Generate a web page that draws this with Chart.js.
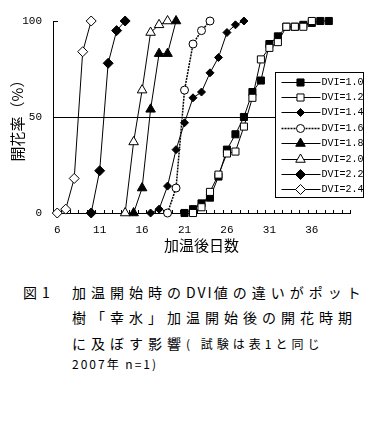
<!DOCTYPE html>
<html>
<head>
<meta charset="utf-8">
<script src="https://cdn.jsdelivr.net/npm/chart.js@4.4.0/dist/chart.umd.min.js"></script>
<style>
body { margin: 0; background: #fff; width: 383px; height: 421px; position: relative; overflow: hidden; font-family: "Noto Sans CJK JP", sans-serif; color: #000; }
#chart { position: absolute; left: 0; top: 0; }
.cap { position: absolute; white-space: nowrap; line-height: 1; }
.big { font-size: 14px; letter-spacing: 5px; }
.small { font-size: 12px; letter-spacing: 4px; }
.lat { letter-spacing: 2px; }
</style>
</head>
<body>
<canvas id="chart" width="383" height="255"></canvas>
<div class="cap big" style="left:23px;top:285px">図1</div>
<div class="cap big" style="left:72px;top:285px">加温開始時の<span class="lat">DVI</span>値の違いがポット</div>
<div class="cap big" style="left:72px;top:310px">樹「幸水」加温開始後の開花時期</div>
<div class="cap" style="left:72px;top:334px"><span class="big">に及ぼす影響</span><span class="small">( 試験は表1と同じ</span></div>
<div class="cap small" style="left:72px;top:358px;letter-spacing:2px">2007年 n=1)</div>
<script>
// x: days after start of heating, y: flowering rate (%)
const xTickLabels = [6, 11, 16, 21, 26, 31, 36];
const yTickLabels = [0, 50, 100];
const seriesLabels = ['DVI=1.0', 'DVI=1.2', 'DVI=1.4', 'DVI=1.6', 'DVI=1.8', 'DVI=2.0', 'DVI=2.2', 'DVI=2.4'];

const days10 = [21, 22, 23, 24, 25, 26, 27, 28, 29, 30, 31, 32, 33, 34, 35, 36, 37, 38];
const rate10 = [0, 2, 5, 8, 19, 33, 41, 50, 63, 69, 88, 92, 97, 97, 98, 99, 100, 100];
const days12 = [22, 23, 24, 25, 26, 27, 28, 29, 30, 31, 32, 33, 34, 35, 36];
const rate12 = [0, 3, 11, 20, 31, 32, 45, 60, 80, 86, 89, 97, 97, 97, 100];
const days14 = [17, 18, 19, 20, 21, 22, 23, 24, 25, 26, 27, 28];
const rate14 = [0, 2, 14, 33, 47, 60, 63, 73, 81, 94, 98, 100];
const days16 = [19, 20, 21, 22, 23, 24];
const rate16 = [0, 13, 64, 88, 95, 100];
const days18 = [15, 16, 17, 18, 19, 20];
const rate18 = [0, 13, 54, 83, 83, 100];
const days20 = [14, 15, 16, 17, 18, 19];
const rate20 = [0, 37, 64, 94, 98, 100];
const days22 = [10, 11, 12, 13, 14];
const rate22 = [0, 22, 78, 95, 100];
const days24 = [6, 7, 8, 9, 10];
const rate24 = [0, 2, 18, 84, 100];

const allDays = [days10, days12, days14, days16, days18, days20, days22, days24];
const allRates = [rate10, rate12, rate14, rate16, rate18, rate20, rate22, rate24];

const markers = [
  { style: 'rect', r: 5, fill: '#000' },
  { style: 'rect', r: 5, fill: '#fff' },
  { style: 'rectRot', r: 4, fill: '#000' },
  { style: 'circle', r: 4, fill: '#fff', dash: [2, 1], width: 1.5 },
  { style: 'triangle', r: 5.5, fill: '#000' },
  { style: 'triangle', r: 5.5, fill: '#fff' },
  { style: 'rectRot', r: 5, fill: '#000' },
  { style: 'rectRot', r: 5, fill: '#fff' },
];

const datasets = seriesLabels.map((label, i) => ({
  label: label,
  data: allDays[i].map((d, j) => ({ x: d, y: allRates[i][j] })),
  borderColor: '#000',
  borderWidth: markers[i].width || 1,
  borderDash: markers[i].dash || [],
  pointStyle: markers[i].style,
  pointRadius: markers[i].r,
  pointBackgroundColor: markers[i].fill,
  pointBorderColor: '#000',
  pointBorderWidth: 1,
  tension: 0,
  clip: false,
  order: 8 - i,
}));

const innerTicks = {
  id: 'innerTicks',
  beforeDatasetsDraw(chart) {
    const { ctx, scales: { x, y }, chartArea: a } = chart;
    ctx.save();
    ctx.strokeStyle = '#000';
    ctx.lineWidth = 1;
    ctx.beginPath();
    for (let d = x.min; d <= x.max + 0.001; d += 1) {
      const px = Math.round(x.getPixelForValue(d)) + 0.5;
      ctx.moveTo(px, a.bottom);
      ctx.lineTo(px, a.bottom - 3);
    }
    yTickLabels.forEach(v => {
      const py = Math.round(y.getPixelForValue(v)) + 0.5;
      ctx.moveTo(a.left, py);
      ctx.lineTo(a.left + 5, py);
    });
    ctx.stroke();
    ctx.restore();
  }
};

const legendBox = {
  id: 'legendBox',
  afterDraw(chart) {
    const ctx = chart.ctx;
    const bx = 275.5, by = 72.5, bw = 88, bh = 125;
    ctx.save();
    ctx.fillStyle = '#fff';
    ctx.fillRect(bx, by, bw, bh);
    ctx.strokeStyle = '#000';
    ctx.lineWidth = 1;
    ctx.strokeRect(bx, by, bw, bh);
    chart.data.datasets.forEach((ds, i) => {
      const ly = Math.round(by + 9 + i * 15.4) + 0.5;
      ctx.strokeStyle = '#000';
      ctx.lineWidth = ds.borderWidth;
      ctx.setLineDash(ds.borderDash);
      ctx.beginPath();
      ctx.moveTo(bx + 6, ly);
      ctx.lineTo(bx + 45, ly);
      ctx.stroke();
      ctx.setLineDash([]);
      ctx.lineWidth = 1;
      ctx.fillStyle = ds.pointBackgroundColor;
      Chart.helpers.drawPoint(ctx, { pointStyle: ds.pointStyle, radius: ds.pointRadius, borderWidth: 1, rotation: 0 }, bx + 25, ly);
      ctx.fillStyle = '#000';
      ctx.font = '10px "Liberation Mono"';
      ctx.textBaseline = 'middle';
      ctx.fillText(ds.label, bx + 46, ly);
    });
    ctx.restore();
  }
};

const tickFont = { family: '"Liberation Mono", monospace', size: 11 };
const cjkFont = { family: '"Noto Sans CJK JP", sans-serif', size: 15 };

new Chart(document.getElementById('chart'), {
  type: 'line',
  data: { datasets: datasets },
  options: {
    responsive: false,
    animation: false,
    layout: { padding: { top: 21, right: 33, left: 0, bottom: 0 } },
    plugins: { legend: { display: false }, tooltip: { enabled: false } },
    scales: {
      x: {
        type: 'linear',
        min: 5.5,
        max: 40.5,
        afterBuildTicks: s => { s.ticks = xTickLabels.map(v => ({ value: v })); },
        afterFit: s => { s.height = 42; },
        ticks: { font: tickFont, color: '#000', padding: 10, autoSkip: false, maxRotation: 0 },
        grid: { drawOnChartArea: false, drawTicks: false },
        border: { display: true, color: '#000', width: 1 },
        title: { display: true, text: '加温後日数', font: cjkFont, color: '#000', padding: { top: 0, bottom: 1 } },
      },
      y: {
        min: 0,
        max: 100,
        afterBuildTicks: s => { s.ticks = yTickLabels.map(v => ({ value: v })); },
        afterFit: s => { s.width = 53; },
        ticks: { font: tickFont, color: '#000', padding: 11 },
        grid: { drawTicks: false, color: c => (c.tick && c.tick.value === 50 ? '#000' : 'rgba(0,0,0,0)') },
        border: { display: true, color: '#000', width: 1 },
        title: { display: true, text: '開花率（%）', font: cjkFont, color: '#000', padding: { top: 8, bottom: 0 } },
      },
    },
  },
  plugins: [innerTicks, legendBox],
});
</script>
</body>
</html>
